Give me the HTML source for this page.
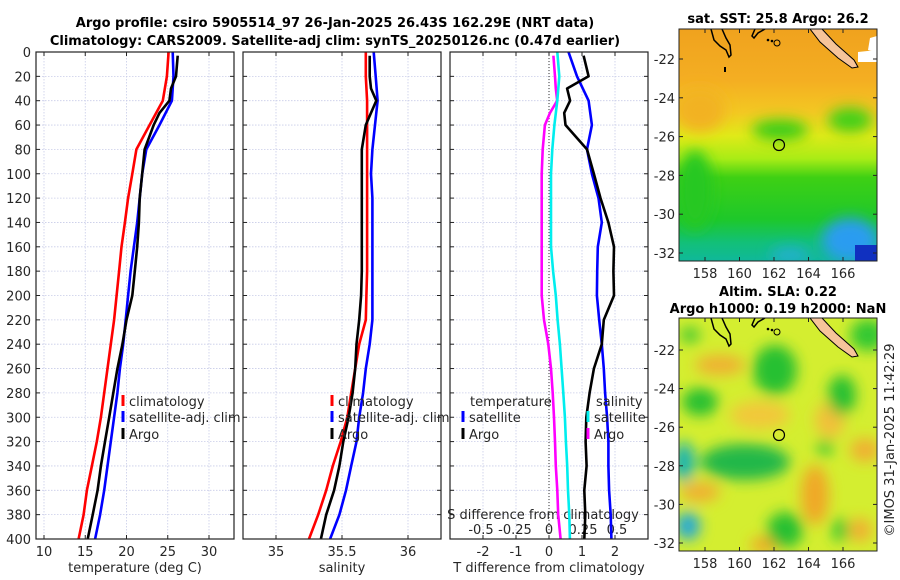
<!DOCTYPE html>
<html><head><meta charset="utf-8"><style>
body{margin:0;background:#fff;}
svg{display:block;font-family:"DejaVu Sans","Liberation Sans",sans-serif;}
.t{font-size:13px;fill:#262626;}
.ttl{font-size:13px;font-weight:bold;fill:#000;}
</style></head><body>
<svg id="fig" width="900" height="580" viewBox="0 0 900 580">
<defs>
<clipPath id="c1"><rect x="36" y="52" width="198" height="487"/></clipPath>
<clipPath id="c2"><rect x="243" y="52" width="198" height="487"/></clipPath>
<clipPath id="c3"><rect x="450" y="52" width="198" height="487"/></clipPath>
<clipPath id="m1"><rect x="679" y="29" width="198" height="232"/></clipPath>
<clipPath id="m2"><rect x="679" y="318" width="198" height="233"/></clipPath>
<filter id="bl" x="-50%" y="-50%" width="200%" height="200%"><feGaussianBlur stdDeviation="7"/></filter>
<linearGradient id="sstg" x1="0" y1="0" x2="0" y2="1">
<stop offset="0" stop-color="#f0a21e"/><stop offset="0.22" stop-color="#f4ae22"/>
<stop offset="0.36" stop-color="#f3c822"/><stop offset="0.46" stop-color="#e0ea18"/>
<stop offset="0.56" stop-color="#a8ec16"/><stop offset="0.64" stop-color="#3ed014"/>
<stop offset="0.82" stop-color="#1ec82a"/><stop offset="0.92" stop-color="#12c078"/>
<stop offset="1" stop-color="#10b89a"/></linearGradient>
</defs>
<text class="ttl" x="335" y="27" text-anchor="middle">Argo profile: csiro 5905514_97 26-Jan-2025 26.43S 162.29E (NRT data)</text>
<text class="ttl" x="335" y="45" text-anchor="middle">Climatology: CARS2009. Satellite-adj clim: synTS_20250126.nc (0.47d earlier)</text>
<g id="plots"></g>

<!-- SST map -->
<g>
<g clip-path="url(#m1)">
<rect x="679" y="29" width="198" height="232" fill="url(#sstg)"/>
<g filter="url(#bl)">
<ellipse cx="695" cy="190" rx="18" ry="40" fill="#28c820"/>
<ellipse cx="780" cy="130" rx="28" ry="10" fill="#38cc18"/>
<ellipse cx="850" cy="120" rx="22" ry="12" fill="#40d018"/>
<ellipse cx="700" cy="110" rx="25" ry="22" fill="#f2b224"/>
<ellipse cx="850" cy="240" rx="28" ry="22" fill="#2a9cf0"/>
<ellipse cx="790" cy="255" rx="20" ry="8" fill="#20b0d0"/>
</g>
<rect x="855" y="245" width="22" height="16" fill="#1030c0"/>
<path d="M711,29 L714,40 L720,46 L726,50 L729,57 L731,55 L730,45 L726,38 L722,29" fill="none" stroke="#000" stroke-width="1.5"/>
<path d="M755,29 L752,36 L754,38 L758,33 L765,29" fill="none" stroke="#000" stroke-width="1.5"/>
<circle cx="768" cy="40" r="1.3"/><circle cx="772" cy="41" r="1.3"/><circle cx="777" cy="43" r="3" fill="none" stroke="#000"/>
<rect x="724" y="67" width="2" height="5"/>
<polygon points="810,29 822,29 836,44 854,60 858,67 852,68 838,58 820,42" fill="#f6c49a" stroke="#000" stroke-width="1"/>
<polygon points="858,52 877,50 877,62 858,62" fill="#fff"/>
<polygon points="870,38 877,36 877,52 868,50" fill="#fff"/>
<circle cx="779" cy="145" r="5.5" fill="none" stroke="#000" stroke-width="1.2"/>
</g>
<rect x="679" y="29" width="198" height="232" fill="none" stroke="#222"/>
<text class="ttl" x="778" y="23" text-anchor="middle">sat. SST: 25.8 Argo: 26.2</text>
</g>

<!-- SLA map -->
<g>
<g clip-path="url(#m2)">
<rect x="679" y="318" width="198" height="233" fill="#d4ee30"/>
<g filter="url(#bl)">
<ellipse cx="720" cy="365" rx="25" ry="10" fill="#f0b030"/>
<ellipse cx="815" cy="495" rx="14" ry="30" fill="#f0a828"/>
<ellipse cx="700" cy="492" rx="20" ry="10" fill="#f0b030"/>
<ellipse cx="865" cy="450" rx="15" ry="12" fill="#f0b030"/>
<ellipse cx="760" cy="415" rx="30" ry="14" fill="#f2c83a"/>
<ellipse cx="830" cy="420" rx="15" ry="18" fill="#f2c03a"/>
<ellipse cx="860" cy="530" rx="12" ry="12" fill="#f0b030"/>
<ellipse cx="765" cy="545" rx="15" ry="8" fill="#f0a828"/>
<ellipse cx="775" cy="370" rx="22" ry="25" fill="#28c030"/>
<ellipse cx="700" cy="402" rx="18" ry="14" fill="#28c030"/>
<ellipse cx="842" cy="395" rx="14" ry="20" fill="#28c030"/>
<ellipse cx="745" cy="462" rx="45" ry="18" fill="#20b848"/>
<ellipse cx="684" cy="462" rx="10" ry="20" fill="#10b0b8"/>
<ellipse cx="688" cy="526" rx="12" ry="14" fill="#20a8d8"/>
<ellipse cx="785" cy="530" rx="18" ry="18" fill="#28c030"/>
<ellipse cx="840" cy="530" rx="8" ry="12" fill="#30c830"/>
<ellipse cx="868" cy="335" rx="18" ry="16" fill="#30c830"/>
<ellipse cx="825" cy="448" rx="8" ry="8" fill="#40c830"/>
<ellipse cx="690" cy="335" rx="10" ry="8" fill="#40c830"/>
</g>
<path d="M711,318 L714,329 L720,335 L726,339 L729,346 L731,344 L730,334 L726,327 L722,318" fill="none" stroke="#000" stroke-width="1.5"/>
<path d="M755,318 L752,325 L754,327 L758,322 L765,318" fill="none" stroke="#000" stroke-width="1.5"/>
<circle cx="768" cy="329" r="1.3"/><circle cx="772" cy="330" r="1.3"/><circle cx="777" cy="332" r="3" fill="none" stroke="#000"/>
<polygon points="810,318 822,318 836,333 854,349 858,356 852,357 838,347 820,331" fill="#f6c49a" stroke="#000" stroke-width="1"/>
<circle cx="779" cy="435" r="5.5" fill="none" stroke="#000" stroke-width="1.2"/>
</g>
<rect x="679" y="318" width="198" height="233" fill="none" stroke="#222"/>
<text class="ttl" x="778" y="296" text-anchor="middle">Altim. SLA: 0.22</text>
<text class="ttl" x="778" y="313" text-anchor="middle">Argo h1000: 0.19 h2000: NaN</text>
</g>
<text class="t" transform="translate(894,440) rotate(-90)" text-anchor="middle">©IMOS 31-Jan-2025 11:42:29</text>
<g id="mapaxes"></g>
</svg>
<script>
// ---- data ----
var depths = [0,20,40,60,80,100,120,140,160,180,200,220,240,260,280,300,320,340,360,380,400];
var tempClim = [25.1,24.9,24.4,22.8,21.2,20.7,20.2,19.8,19.4,19.1,18.8,18.5,18.1,17.7,17.3,16.9,16.4,15.8,15.2,14.8,14.2];
var tempSat  = [25.6,25.7,25.5,24.0,22.4,21.9,21.6,21.3,20.9,20.5,20.2,19.9,19.6,19.2,18.9,18.5,18.1,17.7,17.3,16.8,16.2];
var argoDepths = [3,20,30,40,50,60,80,100,120,140,160,180,200,220,240,260,280,300,320,340,360,380,400];
var tempArgo = [26.2,26.0,25.4,25.2,24.0,23.3,22.2,21.9,21.6,21.5,21.3,21.0,20.7,20.0,19.5,18.9,18.4,17.9,17.4,16.9,16.5,15.9,15.3];
var salClim = [35.68,35.68,35.69,35.69,35.69,35.69,35.69,35.69,35.69,35.69,35.685,35.68,35.63,35.60,35.57,35.54,35.49,35.43,35.38,35.32,35.25];
var salSat  = [35.74,35.755,35.77,35.75,35.73,35.72,35.73,35.73,35.73,35.73,35.73,35.73,35.71,35.68,35.66,35.63,35.61,35.57,35.53,35.48,35.41];
var salArgo = [35.71,35.71,35.72,35.76,35.72,35.68,35.65,35.65,35.65,35.65,35.65,35.65,35.645,35.63,35.61,35.60,35.58,35.55,35.51,35.48,35.44,35.38,35.34];
var tDiffSat  = [0.59,0.85,1.2,1.3,1.15,1.3,1.5,1.6,1.48,1.46,1.45,1.52,1.6,1.66,1.7,1.76,1.8,1.8,1.82,1.87,1.89];
var tDiffArgo = [1.05,1.2,0.55,0.64,0.46,0.5,1.15,1.36,1.56,1.8,1.97,1.95,1.97,1.66,1.6,1.36,1.23,1.13,1.11,1.14,1.07,1.1,1.07];
var sDiffSat  = [0.061,0.076,0.061,0.04,0.024,0.015,0.015,0.015,0.015,0.03,0.05,0.063,0.08,0.093,0.105,0.117,0.124,0.134,0.14,0.149,0.154];
var sDiffArgo = [0.032,0.044,0.05,0.06,0.007,-0.03,-0.046,-0.054,-0.054,-0.054,-0.054,-0.054,-0.054,-0.037,-0.005,0.015,0.027,0.037,0.044,0.05,0.061,0.068,0.085];
var depthTicks = [0,20,40,60,80,100,120,140,160,180,200,220,240,260,280,300,320,340,360,380,400];
var tempTicks = [10,15,20,25,30];
var salTicks = [35,35.5,36];
var salTickLabels = ['35','35.5','36'];
var tdTicks = [-2,-1,0,1,2];
var sdTicks = [-0.5,-0.25,0,0.25,0.5];
var sdTickLabels = ['-0.5','-0.25','0','0.25','0.5'];
var lonTicks = [158,160,162,164,166];
var latTicks = [-22,-24,-26,-28,-30,-32];

// ---- axes ----
var NS='http://www.w3.org/2000/svg';
function yD(d){return 52+d*1.2175;}
function xT(t){return 44+(t-10)*8.25;}
function xS(s){return 276+(s-35)*132;}
function xTD(d){return 549+d*33;}
function xSD(d){return 549+d*136;}
function lonX(l){return 705+(l-158)*17.25;}
function latY1(l){return 59+(-22-l)*19.4;}
function latY2(l){return 350+(-22-l)*19.3;}
var root=document.getElementById('plots');
function mk(tag,attrs,parent){var e=document.createElementNS(NS,tag);for(var k in attrs)e.setAttribute(k,attrs[k]);(parent||root).appendChild(e);return e;}
function txt(x,y,s,anchor,parent){var e=mk('text',{x:x,y:y,'class':'t','text-anchor':anchor||'middle'},parent);e.textContent=s;return e;}

var panels=[{x0:36,clip:'c1',name:'temperature-panel'},{x0:243,clip:'c2',name:'salinity-panel'},{x0:450,clip:'c3',name:'difference-panel'}];
var gs=[];
panels.forEach(function(p){
  var g=mk('g',{});
  
  
  gs.push(g);
  depthTicks.forEach(function(d){
    mk('line',{x1:p.x0,x2:p.x0+198,y1:yD(d),y2:yD(d),stroke:'#c8cce8','stroke-width':0.8,'stroke-dasharray':'1.5,1.5'},g);
    mk('line',{x1:p.x0,x2:p.x0+4,y1:yD(d),y2:yD(d),stroke:'#222'},g);
    mk('line',{x1:p.x0+194,x2:p.x0+198,y1:yD(d),y2:yD(d),stroke:'#222'},g);
  });
});
function vgrid(g,xs){xs.forEach(function(x){
  mk('line',{x1:x,x2:x,y1:52,y2:539,stroke:'#c8cce8','stroke-width':0.8,'stroke-dasharray':'1.5,1.5'},g);
  mk('line',{x1:x,x2:x,y1:535,y2:539,stroke:'#222'},g);
  mk('line',{x1:x,x2:x,y1:52,y2:56,stroke:'#222'},g);
});}
vgrid(gs[0],tempTicks.map(xT));
vgrid(gs[1],salTicks.map(xS));
vgrid(gs[2],tdTicks.map(xTD));
mk('line',{x1:549,x2:549,y1:52,y2:539,stroke:'#333','stroke-width':1,'stroke-dasharray':'1,2'},gs[2]);

depthTicks.forEach(function(d){txt(31,yD(d)+5,String(d),'end',gs[0]);});
tempTicks.forEach(function(t){txt(xT(t),556,String(t),'middle',gs[0]);});
salTicks.forEach(function(s,i){txt(xS(s),556,salTickLabels[i],'middle',gs[1]);});
tdTicks.forEach(function(t){txt(xTD(t),556,String(t),'middle',gs[2]);});
sdTicks.forEach(function(s,i){txt(xSD(s),534,sdTickLabels[i],'middle',gs[2]);});
var at=txt(135,572,'temperature (deg C)','middle',gs[0]);

var as=txt(342,572,'salinity','middle',gs[1]);

var ad=txt(549,572,'T difference from climatology','middle',gs[2]);

var asd=txt(543,519,'S difference from climatology','middle',gs[2]);


function line(g,xs,ys,fx,color,name){
  var pts=xs.map(function(v,i){return fx(v).toFixed(1)+','+yD(ys[i]).toFixed(1);}).join(' ');
  var pl=mk('polyline',{points:pts,fill:'none',stroke:color,'stroke-width':2.6,'stroke-linejoin':'round'},g);
  
  
}
var cg1=mk('g',{'clip-path':'url(#c1)'},gs[0]);
line(cg1,tempClim,depths,xT,'#ff0000','temp-climatology-line');
line(cg1,tempSat,depths,xT,'#0000ff','temp-satellite-line');
line(cg1,tempArgo,argoDepths,xT,'#000000','temp-argo-line');
var cg2=mk('g',{'clip-path':'url(#c2)'},gs[1]);
line(cg2,salClim,depths,xS,'#ff0000','sal-climatology-line');
line(cg2,salSat,depths,xS,'#0000ff','sal-satellite-line');
line(cg2,salArgo,argoDepths,xS,'#000000','sal-argo-line');
var cg3=mk('g',{'clip-path':'url(#c3)'},gs[2]);
line(cg3,sDiffArgo,argoDepths,xSD,'#ff00ff','s-diff-argo-line');
line(cg3,sDiffSat,depths,xSD,'#00eeee','s-diff-satellite-line');
line(cg3,tDiffSat,depths,xTD,'#0000ff','t-diff-satellite-line');
line(cg3,tDiffArgo,argoDepths,xTD,'#000000','t-diff-argo-line');

function legend(g,x,y,color,label){
  var lg=mk('g',{},g);
  
  
  mk('rect',{x:x-1.5,y:y-11,width:3,height:11,fill:color},lg);
  txt(x+6,y,label,'start',lg);
}
legend(gs[0],123,406,'#ff0000','climatology');
legend(gs[0],123,422,'#0000ff','satellite-adj. clim');
legend(gs[0],123,439,'#000000','Argo');
legend(gs[1],332,406,'#ff0000','climatology');
legend(gs[1],332,422,'#0000ff','satellite-adj. clim');
legend(gs[1],332,439,'#000000','Argo');
txt(470,406,'temperature','start',gs[2]);
legend(gs[2],463,422,'#0000ff','satellite');
legend(gs[2],463,439,'#000000','Argo');
txt(596,406,'salinity','start',gs[2]);
legend(gs[2],588,422,'#00eeee','satellite');
legend(gs[2],588,439,'#ff00ff','Argo');

panels.forEach(function(p,i){mk('rect',{x:p.x0,y:52,width:198,height:487,fill:'none',stroke:'#222','stroke-width':1.2},gs[i]);});

// map axes
var ma=document.getElementById('mapaxes');
lonTicks.forEach(function(l){
  [[29,261],[318,551]].forEach(function(r){
    mk('line',{x1:lonX(l),x2:lonX(l),y1:r[1]-4,y2:r[1],stroke:'#222'},ma);
    mk('line',{x1:lonX(l),x2:lonX(l),y1:r[0],y2:r[0]+4,stroke:'#222'},ma);
    txt(lonX(l),r[1]+17,String(l),'middle',ma);
  });
});
latTicks.forEach(function(l){
  [latY1(l),latY2(l)].forEach(function(y){
    mk('line',{x1:873,x2:877,y1:y,y2:y,stroke:'#222'},ma);
    mk('line',{x1:679,x2:683,y1:y,y2:y,stroke:'#222'},ma);
    txt(675,y+5,String(l),'end',ma);
  });
});
</script>
</body></html>
